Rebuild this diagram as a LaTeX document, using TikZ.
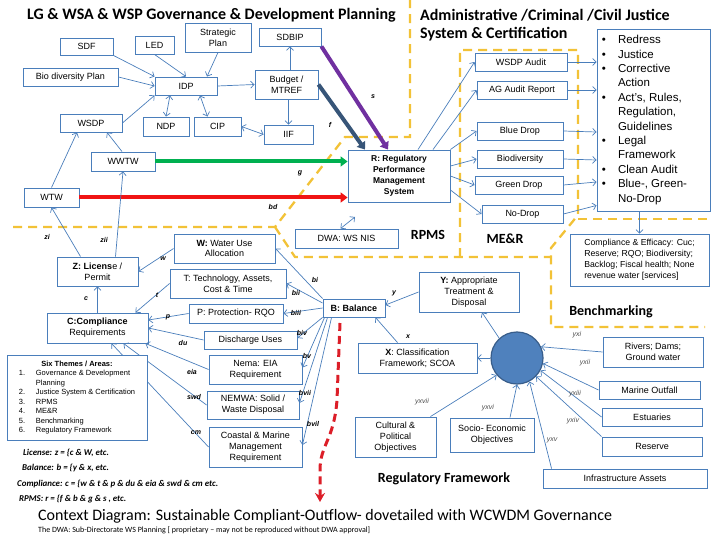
\documentclass[tikz,border=0pt]{standalone}
\usepackage{fontspec}
\setmainfont{Liberation Sans}
\newfontfamily\calibri{Carlito}
\usetikzlibrary{arrows.meta,calc}
\definecolor{boxline}{RGB}{74,126,187}
\definecolor{hubfill}{RGB}{79,129,189}
\definecolor{hubline}{RGB}{56,93,138}
\definecolor{zoneY}{RGB}{242,194,55}
\definecolor{flowG}{RGB}{0,176,80}
\definecolor{flowR}{RGB}{240,20,20}
\definecolor{flowP}{RGB}{112,48,160}
\definecolor{flowB}{RGB}{55,85,120}
\definecolor{outflowR}{RGB}{220,30,40}

\begin{document}
\begin{tikzpicture}[x=1pt, y=-1pt,
  font=\fontsize{9}{10.8}\selectfont,
  box/.style={draw=boxline, fill=white, line width=0.9pt, inner sep=1pt, align=center},
  hdr/.style={font=\calibri\bfseries\fontsize{16}{19}\selectfont, anchor=west, inner sep=0pt},
  zonelbl/.style={font=\calibri\bfseries\fontsize{14}{17}\selectfont},
  formula/.style={font=\calibri\bfseries\itshape\fontsize{8.9}{10.5}\selectfont, anchor=west, inner sep=0pt},
  tag/.style={font=\bfseries\itshape\fontsize{7}{8.4}\selectfont, inner sep=0pt},
  ytag/.style={font=\itshape\fontsize{7}{8.4}\selectfont, color=black!70, inner sep=0pt},
  link/.style={draw=boxline, line width=0.7pt, -{Straight Barb[length=3.5pt,width=7pt]}},
  duo/.style={link, {Straight Barb[length=3.5pt,width=7pt]}-{Straight Barb[length=3.5pt,width=7pt]}},
  fat/.style={line width=4pt, -{Triangle[length=7pt,width=10pt]}},
  zone/.style={draw=zoneY, line width=2.3pt, dash pattern=on 9pt off 6pt},
]
\useasboundingbox (0,0) rectangle (720,540);

% ---------- Zone borders ----------
\draw[zone] (13,227) -- (275,227) -- (345,137) -- (410,137) -- (410,0);
\draw[zone] (275,227) -- (295,257) -- (551,257);
\draw[zone] (460,257) -- (460,50) -- (578,50) -- (578,215) -- (551,248) -- (551,327) -- (705,327);
\draw[zone] (578,219) -- (707,219);

% ---------- Headings ----------
\node[hdr] (hlg) at (27,15) {LG \& WSA \& WSP Governance \& Development Planning};
\node[hdr] (hjus) at (420,15) {Administrative /Criminal /Civil Justice};
\node[hdr] (hsys) at (420,34) {System \& Certification};
\node[zonelbl] (lrpms) at (428,235) {RPMS};
\node[zonelbl] (lmer) at (505,239) {ME\&R};
\node[zonelbl] (lbench) at (611,312) {Benchmarking};
\node[zonelbl] (lreg) at (444,479) {Regulatory Framework};

% ---------- Planning ----------
\node[box, minimum width=53, minimum height=17] (sdf) at (86.5,46.5) {SDF};
\node[box, minimum width=39, minimum height=18] (led) at (154.5,45) {LED};
\node[box, minimum width=66, minimum height=29] (strat) at (218,37.5) {Strategic\\Plan};
\node[box, minimum width=62, minimum height=18] (sdbip) at (290,37) {SDBIP};
\node[box, minimum width=95, minimum height=18] (bio) at (70.5,77) {Bio diversity Plan};
\node[box, minimum width=62, minimum height=18] (idp) at (186,86) {IDP};
\node[box, minimum width=63, minimum height=29] (budget) at (286.5,84.5) {Budget /\\MTREF};
\node[box, minimum width=62, minimum height=18] (wsdp) at (91,123) {WSDP};
\node[box, minimum width=46, minimum height=19] (ndp) at (166,126.5) {NDP};
\node[box, minimum width=47, minimum height=19] (cip) at (217.5,126.5) {CIP};
\node[box, minimum width=49, minimum height=19] (iif) at (288.5,134.5) {IIF};
\node[box, minimum width=64, minimum height=19] (wwtw) at (123,161.5) {WWTW};
\node[box, minimum width=55, minimum height=19] (wtw) at (51.5,197.5) {WTW};

\draw[link] (sdf.south east) -- (idp.north west);
\draw[link] (led.south) -- (idp.north);
\draw[link] (strat.south) -- ($(idp.north)+(21,0)$);
\draw[link] (bio.east) -- (idp.west);
\draw[link] (idp.east) -- (budget.west);
\draw[link] (sdbip.south |- budget.north) -- (sdbip.south);
\draw[link] (iif.north |- budget.south) -- (iif.north);
\draw[duo] (cip.east) -- (iif.west);
\draw[duo] ($(idp.south)+(-16,0)$) -- (ndp.north);
\draw[duo] ($(idp.south)+(14,0)$) -- ($(cip.north)+(-10,0)$);
\draw[link] (wsdp.east) -- (idp.south west);
\draw[link] ($(wwtw.north)+(-1,0)$) -- ($(wsdp.south)+(16,0)$);
\draw[link] (wtw.north) -- ($(wsdp.south)+(-14,0)$);

% ---------- RPMS, ME&R, justice ----------
\node[box, minimum width=102, minimum height=52, font=\bfseries\fontsize{8.5}{10.8}\selectfont] (rpms) at (399,176)
  {R: Regulatory\\Performance\\Management\\System};
\node[box, minimum width=103, minimum height=19] (dwanis) at (346.5,238.5) {DWA: WS NIS};
\node[box, minimum width=92, minimum height=18] (wsdpaud) at (521,62) {WSDP Audit};
\node[box, minimum width=90, minimum height=18] (agaud) at (522,90) {AG Audit Report};
\node[box, minimum width=86, minimum height=18] (bluedrop) at (520,131) {Blue Drop};
\node[box, minimum width=86, minimum height=18] (biodiv) at (520,159) {Biodiversity};
\node[box, minimum width=88, minimum height=18] (greendrop) at (519,185) {Green Drop};
\node[box, minimum width=81, minimum height=18] (nodrop) at (522.5,214) {No-Drop};
\node[box, minimum width=113, minimum height=182, font=\fontsize{11.5}{14.4}\selectfont] (redress) at (653.5,120) {%
  \begin{tabular}{@{}l@{\hspace{12pt}}p{87pt}@{}}
  \textbullet & Redress\\
  \textbullet & Justice\\
  \textbullet & Corrective\\
   & Action\\
  \textbullet & Act's, Rules,\\
   & Regulation,\\
   & Guidelines\\
  \textbullet & Legal\\
   & Framework\\
  \textbullet & Clean Audit\\
  \textbullet & Blue-, Green-\\
   & No-Drop
  \end{tabular}};
\node[box, minimum width=139, minimum height=52, align=left, font=\fontsize{8.7}{10.9}\selectfont] (efficacy) at (639.5,260)
  {Compliance \& Efficacy: Cuc;\\Reserve; RQO; Biodiversity;\\Backlog; Fiscal health; None\\revenue water [services]};

\draw[fat, flowG] (wwtw.east) -- (wwtw.east -| rpms.west);
\draw[fat, flowR] (wtw.east) -- (wtw.east -| rpms.west);
\draw[fat, flowB] (budget.east) -- ($(rpms.north)+(-34,0)$);
\draw[fat, flowP] (sdbip.south east) -- ($(rpms.north)+(-11,0)$);

\draw[link] ($(rpms.north)+(19,0)$) -- (wsdpaud.west);
\draw[link] ($(rpms.north)+(34,0)$) -- (agaud.west);
\draw[link] (rpms.north east) -- (bluedrop.west);
\draw[link] ($(rpms.east)+(0,-10)$) -- (biodiv.west);
\draw[link] (rpms.east) -- (greendrop.west);
\draw[link] ($(rpms.east)+(0,14)$) -- (nodrop.west);

\draw[link] (wsdpaud.east) -- (wsdpaud.east -| redress.west);
\draw[link] (agaud.east) -- (agaud.east -| redress.west);
\draw[link] (bluedrop.east) -- ($(bluedrop.east -| redress.west)+(0,1)$);
\draw[link] (biodiv.east) -- ($(biodiv.east -| redress.west)+(0,1)$);
\draw[link] (greendrop.east) -- ($(greendrop.east -| redress.west)+(0,-3)$);
\draw[link] (nodrop.east) -- ($(redress.south west)+(0,-6)$);
\draw[link] (efficacy.north |- redress.south) -- (efficacy.north);

\coordinate (nistip) at (355,217);
\draw[duo] ($(dwanis.north)+(-6,0)$) -- (nistip);

% ---------- Licence and compliance ----------
\node[box, minimum width=81, minimum height=29] (license) at (97.5,271.5) {\textbf{Z: Licens}e /\\Permit};
\node[box, minimum width=101, minimum height=29] (wateruse) at (224.5,248.5) {\textbf{W:} Water Use\\Allocation};
\node[box, minimum width=116, minimum height=29] (tech) at (228,283.5) {T: Technology, Assets,\\Cost \& Time};
\node[box, minimum width=94, minimum height=19] (protect) at (236,313.5) {P: Protection- RQO};
\node[box, minimum width=101, minimum height=30] (compl) at (97.5,328) {\textbf{C:Compliance}\\Requirements};
\node[box, minimum width=93, minimum height=18] (discharge) at (250.5,340) {Discharge Uses};
\node[box, minimum width=93, minimum height=29] (nema) at (255.5,369.5) {Nema: EIA\\Requirement};
\node[box, minimum width=92, minimum height=28] (nemwa) at (253,405) {NEMWA: Solid /\\Waste Disposal};
\node[box, minimum width=93, minimum height=40] (coastal) at (255.5,447) {Coastal \& Marine\\Management\\Requirement};
\node[box, minimum width=62, minimum height=18, font=\bfseries\fontsize{9}{10.8}\selectfont] (balance) at (354,308) {B: Balance};

\draw[link] ($(license.north)+(-17,0)$) -- (wtw.south);
\draw[link] ($(license.north)+(18,0)$) -- (wwtw.south);
\draw[link] (wateruse.west) -- (license.east);
\draw[link] (compl.north) -- (license.south);
\draw[link] (tech.west) -- ($(compl.north east)+(-13,0)$);
\draw[link] (protect.west) -- ($(compl.east)+(0,-8)$);
\draw[link] (discharge.west) -- (compl.east);
\draw[link] (nema.west) -- ($(compl.south east)+(-3,0)$);
\draw[link] (nemwa.west) -- ($(compl.south)+(26,0)$);
\draw[link] (coastal.west) -- ($(compl.south)+(14,0)$);

\draw[link] (balance.north west) -- (wateruse.east);
\draw[link] ($(balance.west)+(0,-5)$) -- (tech.east);
\draw[link] (balance.west) -- (protect.east);
\draw[link] (balance.south west) -- ($(discharge.east)+(0,-2)$);
\draw[link] ($(balance.south west)+(2,0)$) -- ($(nema.east)+(0,-2)$);
\draw[link] ($(balance.south west)+(5,0)$) -- ($(nemwa.east)+(0,-2)$);
\draw[link] ($(balance.south west)+(9,0)$) -- ($(coastal.east)+(0,-2)$);

% ---------- Balance inputs ----------
\node[box, minimum width=100, minimum height=40] (treat) at (469,292) {\textbf{Y:} Appropriate\\Treatment \&\\Disposal};
\node[box, minimum width=119, minimum height=30] (classif) at (417.5,358) {\textbf{X}: Classification\\Framework; SCOA};
\node[circle, draw=hubline, fill=hubfill, line width=1.2pt, minimum size=52, inner sep=0pt] (hub) at (517,358) {};
\node[box, minimum width=100, minimum height=30] (rivers) at (653,352) {Rivers; Dams;\\Ground water};
\node[box, minimum width=101, minimum height=18] (outfall) at (649.5,390) {Marine Outfall};
\node[box, minimum width=100, minimum height=18] (estuaries) at (652,417) {Estuaries};
\node[box, minimum width=100, minimum height=19] (reserve) at (652,446.5) {Reserve};
\node[box, minimum width=81, minimum height=40] (cultural) at (395.5,437) {Cultural \&\\Political\\Objectives};
\node[box, minimum width=84, minimum height=34] (socio) at (492,435) {Socio- Economic\\Objectives};
\node[box, minimum width=164, minimum height=19] (infra) at (625,478.5) {Infrastructure Assets};

\draw[link] (treat.west) -- ($(balance.east)+(0,-3)$);
\draw[link] ($(classif.north)+(-20,0)$) -- ($(balance.south east)+(-10,0)$);
\draw[link] (hub.132) -- ($(treat.south)+(13,0)$);
\draw[link] (hub.west) -- (classif.east);
\draw[link] (rivers.west) -- (hub.25);
\draw[link] (outfall.west) -- (hub.-12);
\draw[link] (estuaries.west) -- (hub.-28);
\draw[link] (reserve.north west) -- (hub.-44);
\draw[link] ($(infra.north west)+(9,0)$) -- (hub.-62);
\draw[link] ($(socio.north)+(18,0)$) -- (hub.-90);
\draw[link] ($(cultural.north)+(35,0)$) -- (hub.-140);

% outflow
\coordinate (flowtop) at (340,323);
\coordinate (flowend) at (320,502);
\draw[outflowR, line width=3pt, dash pattern=on 8pt off 5pt, -{Stealth[length=9pt,width=10pt]}]
  (flowtop) -- (337,400) .. controls (334,440) and (320,445) .. (320,470) -- (flowend);

% ---------- Connector tags ----------
\foreach \n/\x/\y in {s/373/97, f/330/125, g/300/173, bd/273/207, zi/47/237, zii/104/240,
    w/163/259, c/86/299, t/157/295, p/168/317, bi/315/280, bii/296/293, biii/296/313,
    biv/302/333, du/183/343, bv/307/356, eia/192/372, swd/194/397, bvii/305/393,
    cm/196/433, bvil/313/424, y/394/293, x/408/337}
  \node[tag] (t\n) at (\x,\y) {\n};
\foreach \n/\x/\y in {yxi/577/335, yxii/585/363, yxiii/575/394, yxiv/573/421,
    yxv/552/440, yxvi/488/408, yxvii/422/402}
  \node[ytag] (t\n) at (\x,\y) {\n};

% ---------- Themes and formulas ----------
\node[box, minimum width=140, minimum height=85, font=\fontsize{7.5}{9.5}\selectfont] (themes) at (77,397.5) {%
  \begin{tabular}{@{}p{12pt}@{\hspace{5pt}}l@{}}
  \multicolumn{2}{c}{\textbf{Six Themes / Areas:}}\\
  1. & Governance \& Development\\
     & Planning\\
  2. & Justice System \& Certification\\
  3. & RPMS\\
  4. & ME\&R\\
  5. & Benchmarking\\
  6. & Regulatory Framework
  \end{tabular}};
\node[formula] (fz) at (23,453) {License: z = \{c \& W, etc.};
\node[formula] (fb) at (22,468) {Balance: b = \{y \& x, etc.};
\node[formula] (fc) at (17,484) {Compliance: c = \{w \& t \& p \& du \& eia \& swd \& cm etc.};
\node[formula] (fr) at (19,499) {RPMS: r = \{f \& b \& g \& s , etc.};

\node[anchor=west, inner sep=0pt, font=\calibri\fontsize{16}{19}\selectfont] (ctitle) at (38,516)
  {Context Diagram: Sustainable Compliant-Outflow- dovetailed with WCWDM Governance};
\node[anchor=west, inner sep=0pt, font=\calibri\fontsize{8}{9.6}\selectfont] (csub) at (38,530)
  {The DWA: Sub-Directorate WS Planning [ proprietary – may not be reproduced without DWA approval]};

\end{tikzpicture}
\end{document}
